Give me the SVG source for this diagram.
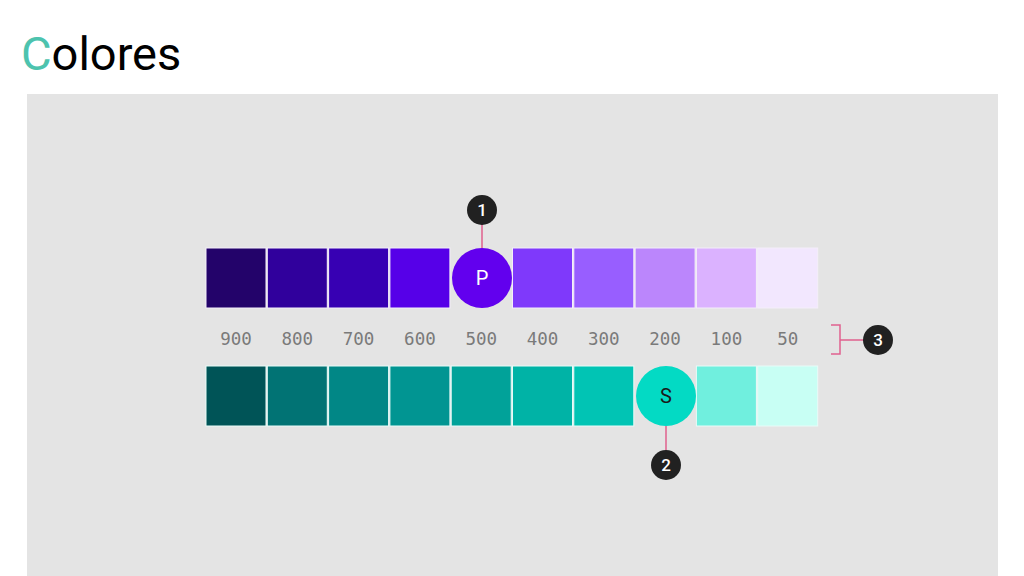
<svg xmlns="http://www.w3.org/2000/svg" width="1024" height="576" viewBox="0 0 1024 576">
<style>
.sq{stroke:#f4eefa;stroke-width:1}
.sqt{stroke:#e8fbf8;stroke-width:1}
.lbl{font-family:"DejaVu Sans Mono","Liberation Mono",monospace;font-size:17.5px;fill:#7a7a7a;text-anchor:middle}
.badge{fill:#212121}
.bt{font-family:Roboto,"Liberation Sans",sans-serif;font-size:17px;font-weight:500;fill:#fff;text-anchor:middle}
.con{stroke:#e0608e;stroke-width:1.5;fill:none}
.ct{font-family:Roboto,"Liberation Sans",sans-serif;font-size:20px;text-anchor:middle}
</style>
<rect width="1024" height="576" fill="#fff"/>
<text x="21" y="70" font-family="Roboto,'Liberation Sans',sans-serif" font-size="47" fill="#000"><tspan fill="#4dc3ae">C</tspan>olores</text>
<rect x="27" y="94" width="971" height="482" fill="#e4e4e4"/>
<g id="connectors">
<line class="con" x1="482" y1="224" x2="482" y2="248"/>
<line class="con" x1="666" y1="426" x2="666" y2="451"/>
<polyline class="con" points="831,325 840,325 840,354 831,354"/>
<line class="con" x1="840" y1="340" x2="864" y2="340"/>
</g>
<g id="primary">
<rect class="sq" x="206" y="248" width="60" height="60" fill="#23036a"/>
<rect class="sq" x="267.3" y="248" width="60" height="60" fill="#30009c"/>
<rect class="sq" x="328.6" y="248" width="60" height="60" fill="#3700b3"/>
<rect class="sq" x="389.9" y="248" width="60" height="60" fill="#5600e8"/>
<rect class="sq" x="512.5" y="248" width="60" height="60" fill="#7f39fb"/>
<rect class="sq" x="573.8" y="248" width="60" height="60" fill="#985eff"/>
<rect class="sq" x="635.1" y="248" width="60" height="60" fill="#bb86fc"/>
<rect class="sq" x="696.4" y="248" width="60" height="60" fill="#dbb2ff"/>
<rect class="sq" x="757.7" y="248" width="60" height="60" fill="#f2e7fe"/>
</g>
<g id="node-P">
<circle cx="482" cy="278" r="30" fill="#6200ee"/>
<text class="ct" x="482" y="285" fill="#fff">P</text>
</g>
<g id="secondary">
<rect class="sqt" x="206" y="366" width="60" height="60" fill="#005457"/>
<rect class="sqt" x="267.3" y="366" width="60" height="60" fill="#017374"/>
<rect class="sqt" x="328.6" y="366" width="60" height="60" fill="#018786"/>
<rect class="sqt" x="389.9" y="366" width="60" height="60" fill="#019592"/>
<rect class="sqt" x="451.2" y="366" width="60" height="60" fill="#01a299"/>
<rect class="sqt" x="512.5" y="366" width="60" height="60" fill="#00b3a6"/>
<rect class="sqt" x="573.8" y="366" width="60" height="60" fill="#01c4b4"/>
<rect class="sqt" x="696.4" y="366" width="60" height="60" fill="#70efde"/>
<rect class="sqt" x="757.7" y="366" width="60" height="60" fill="#c8fff4"/>
</g>
<g id="node-S">
<circle cx="666" cy="396" r="30" fill="#03dac4"/>
<text class="ct" x="666" y="403" fill="#1a1a1a">S</text>
</g>
<g id="labels">
<text class="lbl" x="236" y="345">900</text>
<text class="lbl" x="297.3" y="345">800</text>
<text class="lbl" x="358.6" y="345">700</text>
<text class="lbl" x="419.9" y="345">600</text>
<text class="lbl" x="481.2" y="345">500</text>
<text class="lbl" x="542.5" y="345">400</text>
<text class="lbl" x="603.8" y="345">300</text>
<text class="lbl" x="665.1" y="345">200</text>
<text class="lbl" x="726.4" y="345">100</text>
<text class="lbl" x="787.7" y="345">50</text>
</g>
<g id="badge-1">
<circle class="badge" cx="482" cy="210" r="15"/>
<text class="bt" x="482" y="216">1</text>
</g>
<g id="badge-2">
<circle class="badge" cx="666" cy="465" r="15"/>
<text class="bt" x="666" y="471">2</text>
</g>
<g id="badge-3">
<circle class="badge" cx="878" cy="340" r="15"/>
<text class="bt" x="878" y="346">3</text>
</g>
</svg>
